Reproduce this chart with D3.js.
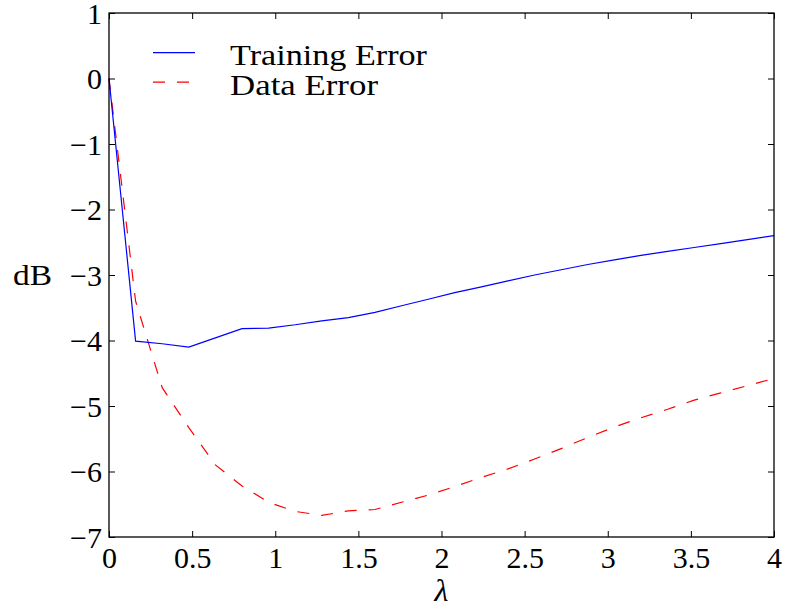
<!DOCTYPE html>
<html>
<head>
<meta charset="utf-8">
<script src="https://cdn.jsdelivr.net/npm/d3@7"></script>
<style>
  body { margin: 0; background: #fff; }
  text { font-family: "Liberation Serif", "DejaVu Serif", serif; fill: #000; }
</style>
</head>
<body>
<div id="chart"></div>
<script>
// lambda values (same grid for both curves)
var lambdas = [0, 0.16, 0.32, 0.48, 0.64, 0.80, 0.96, 1.12, 1.28, 1.44, 1.60, 1.76, 1.92,
               2.08, 2.24, 2.40, 2.56, 2.72, 2.88, 3.04, 3.20, 3.36, 3.52, 3.68, 3.84, 4.00];
var trainingError = [0, -4.01, -4.05, -4.10, -3.96, -3.82, -3.81, -3.76, -3.70, -3.65, -3.57, -3.47, -3.37,
                     -3.27, -3.18, -3.09, -3.00, -2.92, -2.84, -2.77, -2.70, -2.64, -2.58, -2.52, -2.46, -2.40];
var dataError = [0, -3.40, -4.72, -5.33, -5.90, -6.22, -6.47, -6.61, -6.67, -6.60, -6.58, -6.47, -6.36,
                 -6.23, -6.09, -5.96, -5.81, -5.65, -5.48, -5.32, -5.18, -5.05, -4.91, -4.80, -4.69, -4.58];
var xTicks = [0, 0.5, 1, 1.5, 2, 2.5, 3, 3.5, 4];
var yTicks = [1, 0, -1, -2, -3, -4, -5, -6, -7];

var W = 787, H = 609;
var mLeft = 109, mRight = 774, mTop = 13, mBottom = 537;

var svg = d3.select("#chart").append("svg")
    .attr("width", W)
    .attr("height", H);

svg.append("rect").attr("width", W).attr("height", H).attr("fill", "#fff");

var x = d3.scaleLinear().domain([0, 4]).range([mLeft, mRight]);
var y = d3.scaleLinear().domain([-7, 1]).range([mBottom, mTop]);

function fmt(v) {
    return (v < 0 ? "\u2212" : "") + Math.abs(v);
}

// lines
var line = d3.line()
    .x(function (d) { return x(d[0]); })
    .y(function (d) { return y(d[1]); });

var plot = svg.append("g");

plot.append("path")
    .datum(d3.zip(lambdas, dataError))
    .attr("d", line)
    .attr("fill", "none")
    .attr("stroke", "#ff0000")
    .attr("stroke-width", 1.2)
    .attr("stroke-dasharray", "12,12");

plot.append("path")
    .datum(d3.zip(lambdas, trainingError))
    .attr("d", line)
    .attr("fill", "none")
    .attr("stroke", "#0000ff")
    .attr("stroke-width", 1.2);

// axes, ticks inside on all four sides
var fs = 30;
svg.append("g")
    .attr("transform", "translate(0," + mBottom + ")")
    .call(d3.axisBottom(x).tickValues(xTicks).tickSizeInner(-6).tickSizeOuter(0).tickFormat(fmt))
    .call(function (g) {
        g.select(".domain").remove();
        g.selectAll("text").attr("font-size", fs).attr("font-family", "Liberation Serif")
            .attr("y", 31).attr("dy", 0);
    });

svg.append("g")
    .attr("transform", "translate(0," + mTop + ")")
    .call(d3.axisTop(x).tickValues(xTicks).tickSizeInner(-6).tickSizeOuter(0).tickFormat(""))
    .call(function (g) { g.select(".domain").remove(); });

svg.append("g")
    .attr("transform", "translate(" + mLeft + ",0)")
    .call(d3.axisLeft(y).tickValues(yTicks).tickSizeInner(-6).tickSizeOuter(0).tickPadding(7).tickFormat(fmt))
    .call(function (g) {
        g.select(".domain").remove();
        g.selectAll("text").attr("font-size", fs).attr("font-family", "Liberation Serif").attr("dy", "0.34em");
    });

svg.append("g")
    .attr("transform", "translate(" + mRight + ",0)")
    .call(d3.axisRight(y).tickValues(yTicks).tickSizeInner(-6).tickSizeOuter(0).tickFormat(""))
    .call(function (g) { g.select(".domain").remove(); });

svg.selectAll(".tick line").attr("stroke", "#000").attr("stroke-width", 1);

svg.append("rect")
    .attr("x", mLeft).attr("y", mTop)
    .attr("width", mRight - mLeft).attr("height", mBottom - mTop)
    .attr("fill", "none")
    .attr("stroke", "#000")
    .attr("stroke-width", 1.3);

// axis labels
svg.append("text")
    .attr("x", 13).attr("y", (mTop + mBottom) / 2)
    .attr("dy", "0.34em")
    .attr("font-size", fs)
    .attr("textLength", 39)
    .attr("lengthAdjust", "spacingAndGlyphs")
    .text("dB");

svg.append("text")
    .attr("x", (mLeft + mRight) / 2).attr("y", 601)
    .attr("text-anchor", "middle")
    .attr("font-size", 32)
    .attr("font-style", "italic")
    .text("\u03bb");

// legend
var legend = [
    { name: "Training Error", color: "#0000ff", dash: null, len: 197 },
    { name: "Data Error", color: "#ff0000", dash: "12,12", len: 148 }
];
var lg = svg.append("g");
legend.forEach(function (d, i) {
    var ly = 52.7 + i * 29.5;
    lg.append("line")
        .attr("x1", 153).attr("x2", 195)
        .attr("y1", ly).attr("y2", ly)
        .attr("stroke", d.color)
        .attr("stroke-width", 1.2)
        .attr("stroke-dasharray", d.dash);
    lg.append("text")
        .attr("x", 230).attr("y", ly + 12.3)
        .attr("font-size", 29)
        .attr("textLength", d.len)
        .attr("lengthAdjust", "spacingAndGlyphs")
        .text(d.name);
});
</script>
</body>
</html>
